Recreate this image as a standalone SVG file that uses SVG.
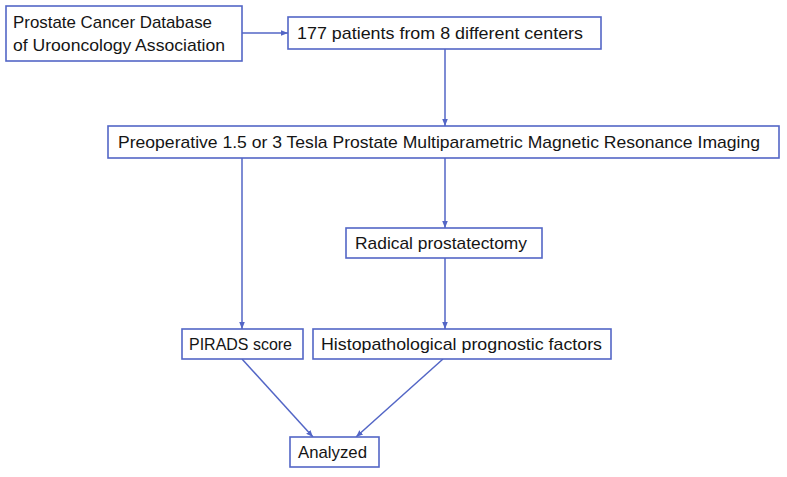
<svg xmlns="http://www.w3.org/2000/svg" width="787" height="477" viewBox="0 0 787 477">
<style>
.box{fill:#fff;stroke:#5366c6;stroke-width:1.6}
.t{font-family:"Liberation Sans",Arial,sans-serif;font-size:17px;fill:#151515}
.c{fill:none;stroke:#5366c6;stroke-width:1.5}
</style>
<defs>
<marker id="ah" markerUnits="userSpaceOnUse" markerWidth="8" markerHeight="8" viewBox="0 0 8 8" refX="7" refY="4" orient="auto">
<path d="M0,1.2 L7,4 L0,6.8 z" fill="#5366c6"/>
</marker>
</defs>
<rect width="787" height="477" fill="#fff"/>
<g id="connectors">
<line class="c" x1="242" y1="33" x2="288" y2="33" marker-end="url(#ah)"/>
<line class="c" x1="445" y1="49" x2="445" y2="126" marker-end="url(#ah)"/>
<line class="c" x1="242" y1="158" x2="242" y2="329" marker-end="url(#ah)"/>
<line class="c" x1="445" y1="158" x2="445" y2="228" marker-end="url(#ah)"/>
<line class="c" x1="445" y1="258" x2="445" y2="329" marker-end="url(#ah)"/>
<line class="c" x1="242" y1="359" x2="313" y2="437" marker-end="url(#ah)"/>
<line class="c" x1="443" y1="359" x2="356" y2="437" marker-end="url(#ah)"/>
</g>
<g id="n1">
<rect class="box" x="6" y="6" width="236" height="55"/>
<text class="t" x="13" y="28" textLength="199" lengthAdjust="spacingAndGlyphs">Prostate Cancer Database</text>
<text class="t" x="13" y="51" textLength="212" lengthAdjust="spacingAndGlyphs">of Urooncology Association</text>
</g>
<g id="n2">
<rect class="box" x="288" y="17" width="313" height="32"/>
<text class="t" x="297" y="39" textLength="286" lengthAdjust="spacingAndGlyphs">177 patients from 8 different centers</text>
</g>
<g id="n3">
<rect class="box" x="108" y="126" width="671" height="32"/>
<text class="t" x="118" y="148" textLength="642" lengthAdjust="spacingAndGlyphs">Preoperative 1.5 or 3 Tesla Prostate Multiparametric Magnetic Resonance Imaging</text>
</g>
<g id="n4">
<rect class="box" x="346" y="228" width="196" height="30"/>
<text class="t" x="355" y="249" textLength="172" lengthAdjust="spacingAndGlyphs">Radical prostatectomy</text>
</g>
<g id="n5">
<rect class="box" x="182" y="329" width="121" height="30"/>
<text class="t" x="189" y="350" textLength="103" lengthAdjust="spacingAndGlyphs">PIRADS score</text>
</g>
<g id="n6">
<rect class="box" x="313" y="329" width="298" height="30"/>
<text class="t" x="321" y="350" textLength="281" lengthAdjust="spacingAndGlyphs">Histopathological prognostic factors</text>
</g>
<g id="n7">
<rect class="box" x="290" y="437" width="89" height="30"/>
<text class="t" x="298" y="458" textLength="69" lengthAdjust="spacingAndGlyphs">Analyzed</text>
</g>
</svg>
